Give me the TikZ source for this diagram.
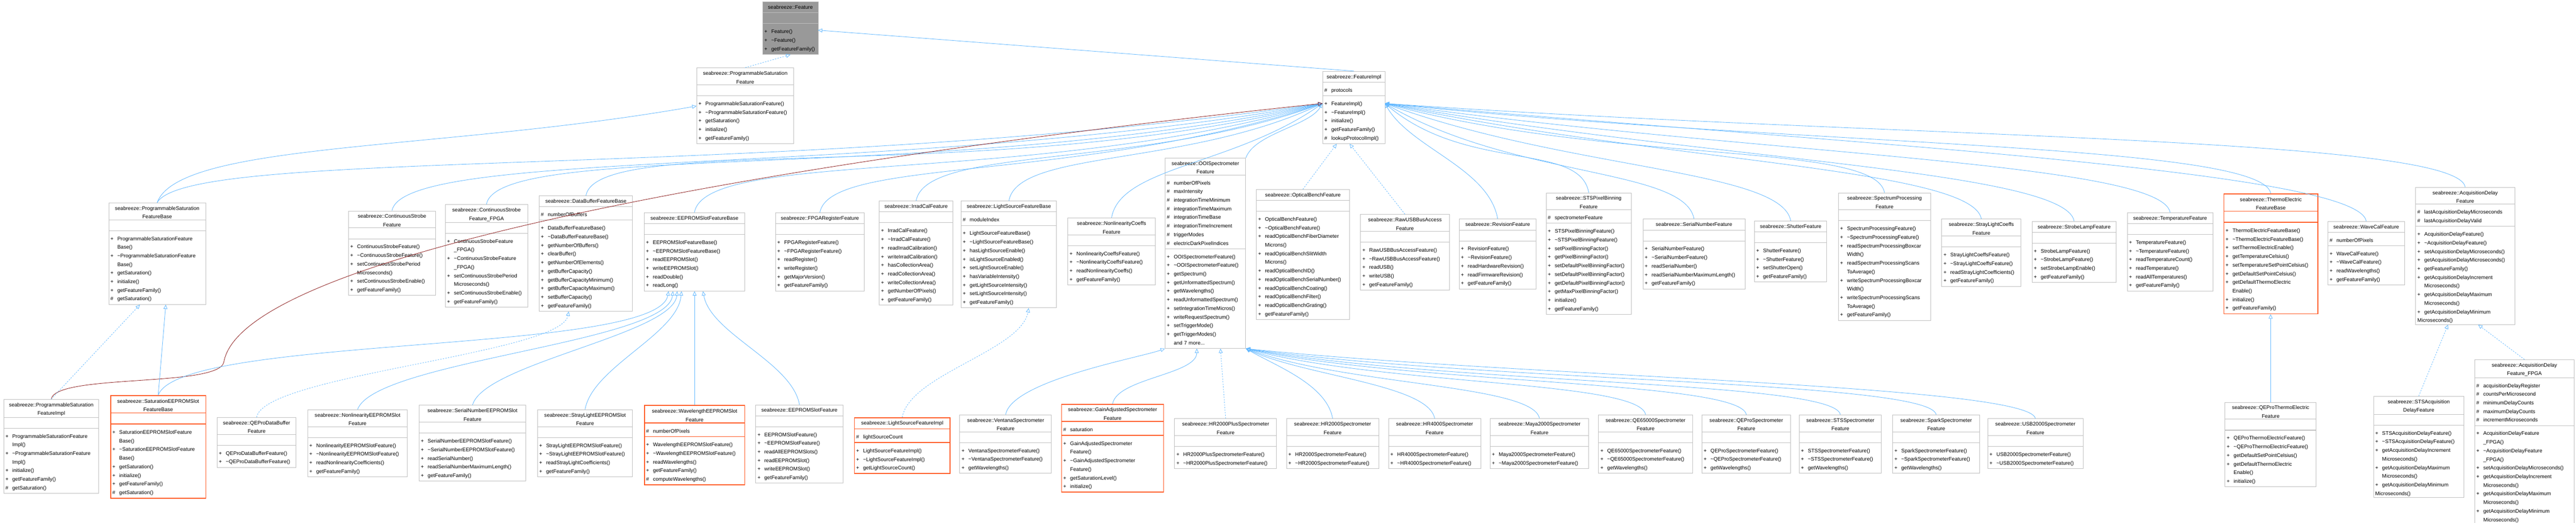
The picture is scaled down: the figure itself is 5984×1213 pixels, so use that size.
\documentclass[tikz,border=0pt]{standalone}
\usepackage{fontspec}
\setmainfont{Liberation Sans}
\usetikzlibrary{shapes.multipart,arrows.meta}

\definecolor{edgeblue}{HTML}{63B8FF}
\definecolor{protred}{HTML}{8B1A1A}
\definecolor{boxgray}{HTML}{BFBFBF}
\definecolor{hotred}{HTML}{FF5A24}
\definecolor{rootgray}{HTML}{999999}

% one member line: symbol, then name (wrapped lines hang under the name)
\newcommand{\mbr}[2]{\par\noindent\hangindent=16pt\hangafter=1\makebox[16pt][l]{#1}\strut#2}
\newcommand{\pub}[1]{\mbr{+}{#1}}
\newcommand{\pro}[1]{\mbr{\#}{#1}}
\newcommand{\dt}{\textasciitilde}

% class box: style, name, x, y, width, title, attributes, methods
\newcommand{\umlclass}[8][classbox]{%
\node[#1, text width=#5pt-8pt] (#2) at (#3pt,-#4pt)
 {\centering\strut#6\par\nodepart{two}\raggedright#7\nodepart{three}\raggedright#8};}

\tikzset{
 classbox/.style={rectangle split, rectangle split parts=3, draw=boxgray, line width=1.2pt,
  anchor=north west, inner xsep=4pt, inner ysep=2pt, font=\fontsize{12}{20}\selectfont},
 hotbox/.style={classbox, draw=hotred, line width=2pt},
 rootbox/.style={classbox, fill=rootgray},
 inh/.style={draw=edgeblue, line width=1pt, -{Triangle[open,length=10pt,width=9pt]}},
 inhdash/.style={inh, dashed},
 prot/.style={inh, draw=protred},
}

\begin{document}
\begin{tikzpicture}
\useasboundingbox (0,0) rectangle (5984pt,-1213pt);

% top
\umlclass[rootbox]{feat}{1771}{4}{129}{seabreeze::Feature}{\strut}{\pub{Feature()}\pub{\dt Feature()}\pub{getFeatureFamily()}}
\umlclass{psf}{1618}{157}{225}{seabreeze::ProgrammableSaturation\\Feature}{\strut}{\pub{ProgrammableSaturationFeature()}\pub{\dt ProgrammableSaturationFeature()}\pub{getSaturation()}\pub{initialize()}\pub{getFeatureFamily()}}
\umlclass{fimpl}{3072}{165}{145}{seabreeze::FeatureImpl}{\pro{protocols}}{\pub{FeatureImpl()}\pub{\dt FeatureImpl()}\pub{initialize()}\pub{getFeatureFamily()}\pro{lookupProtocolImpl()}}

% second row
\umlclass{psfb}{252}{470}{225}{seabreeze::ProgrammableSaturation\\FeatureBase}{\strut}{\pub{ProgrammableSaturationFeature\newline Base()}\pub{\dt ProgrammableSaturationFeature\newline Base()}\pub{getSaturation()}\pub{initialize()}\pub{getFeatureFamily()}\pro{getSaturation()}}
\umlclass{csf}{809}{489}{202}{seabreeze::ContinuousStrobe\\Feature}{\strut}{\pub{ContinuousStrobeFeature()}\pub{\dt ContinuousStrobeFeature()}\pub{setContinuousStrobePeriod\newline Microseconds()}\pub{setContinuousStrobeEnable()}\pub{getFeatureFamily()}}
\umlclass{csfpga}{1034}{474}{191}{seabreeze::ContinuousStrobe\\Feature\_FPGA}{\strut}{\pub{ContinuousStrobeFeature\newline\_FPGA()}\pub{\dt ContinuousStrobeFeature\newline\_FPGA()}\pub{setContinuousStrobePeriod\newline Microseconds()}\pub{setContinuousStrobeEnable()}\pub{getFeatureFamily()}}
\umlclass{dbfb}{1252}{454}{217}{seabreeze::DataBufferFeatureBase}{\pro{numberOfBuffers}}{\pub{DataBufferFeatureBase()}\pub{\dt DataBufferFeatureBase()}\pub{getNumberOfBuffers()}\pub{clearBuffer()}\pub{getNumberOfElements()}\pub{getBufferCapacity()}\pub{getBufferCapacityMinimum()}\pub{getBufferCapacityMaximum()}\pub{setBufferCapacity()}\pub{getFeatureFamily()}}
\umlclass{eesb}{1496}{493}{233}{seabreeze::EEPROMSlotFeatureBase}{\strut}{\pub{EEPROMSlotFeatureBase()}\pub{\dt EEPROMSlotFeatureBase()}\pub{readEEPROMSlot()}\pub{writeEEPROMSlot()}\pub{readDouble()}\pub{readLong()}}
\umlclass{fpga}{1801}{493}{206}{seabreeze::FPGARegisterFeature}{\strut}{\pub{FPGARegisterFeature()}\pub{\dt FPGARegisterFeature()}\pub{readRegister()}\pub{writeRegister()}\pub{getMajorVersion()}\pub{getFeatureFamily()}}
\umlclass{irr}{2042}{466}{171}{seabreeze::IrradCalFeature}{\strut}{\pub{IrradCalFeature()}\pub{\dt IrradCalFeature()}\pub{readIrradCalibration()}\pub{writeIrradCalibration()}\pub{hasCollectionArea()}\pub{readCollectionArea()}\pub{writeCollectionArea()}\pub{getNumberOfPixels()}\pub{getFeatureFamily()}}
\umlclass{lsfb}{2232}{466}{222}{seabreeze::LightSourceFeatureBase}{\pro{moduleIndex}}{\pub{LightSourceFeatureBase()}\pub{\dt LightSourceFeatureBase()}\pub{hasLightSourceEnable()}\pub{isLightSourceEnabled()}\pub{setLightSourceEnable()}\pub{hasVariableIntensity()}\pub{getLightSourceIntensity()}\pub{setLightSourceIntensity()}\pub{getFeatureFamily()}}
\umlclass{nlc}{2480}{505}{203}{seabreeze::NonlinearityCoeffs\\Feature}{\strut}{\pub{NonlinearityCoeffsFeature()}\pub{\dt NonlinearityCoeffsFeature()}\pub{readNonlinearityCoeffs()}\pub{getFeatureFamily()}}
\umlclass{ooi}{2706}{366}{187}{seabreeze::OOISpectrometer\\Feature}{\pro{numberOfPixels}\pro{maxIntensity}\pro{integrationTimeMinimum}\pro{integrationTimeMaximum}\pro{integrationTimeBase}\pro{integrationTimeIncrement}\pro{triggerModes}\pro{electricDarkPixelIndices}}{\pub{OOISpectrometerFeature()}\pub{\dt OOISpectrometerFeature()}\pub{getSpectrum()}\pub{getUnformattedSpectrum()}\pub{getWavelengths()}\pub{readUnformattedSpectrum()}\pub{setIntegrationTimeMicros()}\pub{writeRequestSpectrum()}\pub{setTriggerMode()}\pub{getTriggerModes()}\mbr{}{and 7 more...}}
\umlclass{ob}{2918}{439}{216}{seabreeze::OpticalBenchFeature}{\strut}{\pub{OpticalBenchFeature()}\pub{\dt OpticalBenchFeature()}\pub{readOpticalBenchFiberDiameter\newline Microns()}\pub{readOpticalBenchSlitWidth\newline Microns()}\pub{readOpticalBenchID()}\pub{readOpticalBenchSerialNumber()}\pub{readOpticalBenchCoating()}\pub{readOpticalBenchFilter()}\pub{readOpticalBenchGrating()}\pub{getFeatureFamily()}}
\umlclass{rusb}{3160}{497}{206}{seabreeze::RawUSBBusAccess\\Feature}{\strut}{\pub{RawUSBBusAccessFeature()}\pub{\dt RawUSBBusAccessFeature()}\pub{readUSB()}\pub{writeUSB()}\pub{getFeatureFamily()}}
\umlclass{rev}{3389}{508}{179}{seabreeze::RevisionFeature}{\strut}{\pub{RevisionFeature()}\pub{\dt RevisionFeature()}\pub{readHardwareRevision()}\pub{readFirmwareRevision()}\pub{getFeatureFamily()}}
\umlclass{sts}{3591}{447}{198}{seabreeze::STSPixelBinning\\Feature}{\pro{spectrometerFeature}}{\pub{STSPixelBinningFeature()}\pub{\dt STSPixelBinningFeature()}\pub{setPixelBinningFactor()}\pub{getPixelBinningFactor()}\pub{setDefaultPixelBinningFactor()}\pub{setDefaultPixelBinningFactor()}\pub{getDefaultPixelBinningFactor()}\pub{getMaxPixelBinningFactor()}\pub{initialize()}\pub{getFeatureFamily()}}
\umlclass{sn}{3816}{508}{237}{seabreeze::SerialNumberFeature}{\strut}{\pub{SerialNumberFeature()}\pub{\dt SerialNumberFeature()}\pub{readSerialNumber()}\pub{readSerialNumberMaximumLength()}\pub{getFeatureFamily()}}
\umlclass{shut}{4075}{512}{168}{seabreeze::ShutterFeature}{\strut}{\pub{ShutterFeature()}\pub{\dt ShutterFeature()}\pub{setShutterOpen()}\pub{getFeatureFamily()}}
\umlclass{spf}{4270}{447}{214}{seabreeze::SpectrumProcessing\\Feature}{\strut}{\pub{SpectrumProcessingFeature()}\pub{\dt SpectrumProcessingFeature()}\pub{readSpectrumProcessingBoxcar\newline Width()}\pub{readSpectrumProcessingScans\newline ToAverage()}\pub{writeSpectrumProcessingBoxcar\newline Width()}\pub{writeSpectrumProcessingScans\newline ToAverage()}\pub{getFeatureFamily()}}
\umlclass{slc}{4510}{508}{184}{seabreeze::StrayLightCoeffs\\Feature}{\strut}{\pub{StrayLightCoeffsFeature()}\pub{\dt StrayLightCoeffsFeature()}\pub{readStrayLightCoefficients()}\pub{getFeatureFamily()}}
\umlclass{slamp}{4720}{513}{195}{seabreeze::StrobeLampFeature}{\strut}{\pub{StrobeLampFeature()}\pub{\dt StrobeLampFeature()}\pub{setStrobeLampEnable()}\pub{getFeatureFamily()}}
\umlclass{temp}{4941}{493}{199}{seabreeze::TemperatureFeature}{\strut}{\pub{TemperatureFeature()}\pub{\dt TemperatureFeature()}\pub{readTemperatureCount()}\pub{readTemperature()}\pub{readAllTemperatures()}\pub{getFeatureFamily()}}
\umlclass[hotbox]{te}{5165}{449}{218}{seabreeze::ThermoElectric\\FeatureBase}{\strut}{\pub{ThermoElectricFeatureBase()}\pub{\dt ThermoElectricFeatureBase()}\pub{setThermoElectricEnable()}\pub{getTemperatureCelsius()}\pub{setTemperatureSetPointCelsius()}\pub{getDefaultSetPointCelsius()}\pub{getDefaultThermoElectric\newline Enable()}\pub{initialize()}\pub{getFeatureFamily()}}
\umlclass{wc}{5407}{513}{178}{seabreeze::WaveCalFeature}{\pro{numberOfPixels}}{\pub{WaveCalFeature()}\pub{\dt WaveCalFeature()}\pub{readWavelengths()}\pub{getFeatureFamily()}}
\umlclass{acq}{5611}{434}{230}{seabreeze::AcquisitionDelay\\Feature}{\pro{lastAcquisitionDelayMicroseconds}\pro{lastAcquisitionDelayValid}}{\pub{AcquisitionDelayFeature()}\pub{\dt AcquisitionDelayFeature()}\pub{setAcquisitionDelayMicroseconds()}\pub{getAcquisitionDelayMicroseconds()}\pub{getFeatureFamily()}\pub{getAcquisitionDelayIncrement\newline Microseconds()}\pub{getAcquisitionDelayMaximum\newline Microseconds()}\pub{getAcquisitionDelayMinimum\newline Microseconds()}}

% third row
\umlclass{psfi}{8}{926}{221}{seabreeze::ProgrammableSaturation\\FeatureImpl}{\strut}{\pub{ProgrammableSaturationFeature\newline Impl()}\pub{\dt ProgrammableSaturationFeature\newline Impl()}\pub{initialize()}\pub{getFeatureFamily()}\pro{getSaturation()}}
\umlclass[hotbox]{sesb}{256}{917}{221}{seabreeze::SaturationEEPROMSlot\\FeatureBase}{\strut}{\pub{SaturationEEPROMSlotFeature\newline Base()}\pub{\dt SaturationEEPROMSlotFeature\newline Base()}\pub{getSaturation()}\pub{initialize()}\pub{getFeatureFamily()}\pro{getSaturation()}}
\umlclass{qdb}{504}{968}{183}{seabreeze::QEProDataBuffer\\Feature}{\strut}{\pub{QEProDataBufferFeature()}\pub{\dt QEProDataBufferFeature()}}
\umlclass{nles}{714}{950}{232}{seabreeze::NonlinearityEEPROMSlot\\Feature}{\strut}{\pub{NonlinearityEEPROMSlotFeature()}\pub{\dt NonlinearityEEPROMSlotFeature()}\pub{readNonlinearityCoefficients()}\pub{getFeatureFamily()}}
\umlclass{snes}{973}{940}{248}{seabreeze::SerialNumberEEPROMSlot\\Feature}{\strut}{\pub{SerialNumberEEPROMSlotFeature()}\pub{\dt SerialNumberEEPROMSlotFeature()}\pub{readSerialNumber()}\pub{readSerialNumberMaximumLength()}\pub{getFeatureFamily()}}
\umlclass{sles}{1248}{950}{221}{seabreeze::StrayLightEEPROMSlot\\Feature}{\strut}{\pub{StrayLightEEPROMSlotFeature()}\pub{\dt StrayLightEEPROMSlotFeature()}\pub{readStrayLightCoefficients()}\pub{getFeatureFamily()}}
\umlclass[hotbox]{wles}{1496}{940}{233}{seabreeze::WavelengthEEPROMSlot\\Feature}{\pro{numberOfPixels}}{\pub{WavelengthEEPROMSlotFeature()}\pub{\dt WavelengthEEPROMSlotFeature()}\pub{readWavelengths()}\pub{getFeatureFamily()}\pro{computeWavelengths()}}
\umlclass{eesf}{1755}{939}{203}{seabreeze::EEPROMSlotFeature}{\strut}{\pub{EEPROMSlotFeature()}\pub{\dt EEPROMSlotFeature()}\pub{readAllEEPROMSlots()}\pub{readEEPROMSlot()}\pub{writeEEPROMSlot()}\pub{getFeatureFamily()}}
\umlclass[hotbox]{lsfi}{1984}{968}{222}{seabreeze::LightSourceFeatureImpl}{\pro{lightSourceCount}}{\pub{LightSourceFeatureImpl()}\pub{\dt LightSourceFeatureImpl()}\pub{getLightSourceCount()}}
\umlclass{vent}{2229}{962}{213}{seabreeze::VentanaSpectrometer\\Feature}{\strut}{\pub{VentanaSpectrometerFeature()}\pub{\dt VentanaSpectrometerFeature()}\pub{getWavelengths()}}
\umlclass[hotbox]{gain}{2465}{937}{237}{seabreeze::GainAdjustedSpectrometer\\Feature}{\pro{saturation}}{\pub{GainAdjustedSpectrometer\newline Feature()}\pub{\dt GainAdjustedSpectrometer\newline Feature()}\pub{getSaturationLevel()}\pub{initialize()}}
\umlclass{hrtp}{2728}{971}{237}{seabreeze::HR2000PlusSpectrometer\\Feature}{\strut}{\pub{HR2000PlusSpectrometerFeature()}\pub{\dt HR2000PlusSpectrometerFeature()}}
\umlclass{hrt}{2988}{971}{214}{seabreeze::HR2000Spectrometer\\Feature}{\strut}{\pub{HR2000SpectrometerFeature()}\pub{\dt HR2000SpectrometerFeature()}}
\umlclass{hrf}{3225}{971}{214}{seabreeze::HR4000Spectrometer\\Feature}{\strut}{\pub{HR4000SpectrometerFeature()}\pub{\dt HR4000SpectrometerFeature()}}
\umlclass{maya}{3461}{971}{229}{seabreeze::Maya2000Spectrometer\\Feature}{\strut}{\pub{Maya2000SpectrometerFeature()}\pub{\dt Maya2000SpectrometerFeature()}}
\umlclass{qesf}{3713}{962}{218}{seabreeze::QE65000Spectrometer\\Feature}{\strut}{\pub{QE65000SpectrometerFeature()}\pub{\dt QE65000SpectrometerFeature()}\pub{getWavelengths()}}
\umlclass{qepro}{3953}{962}{206}{seabreeze::QEProSpectrometer\\Feature}{\strut}{\pub{QEProSpectrometerFeature()}\pub{\dt QEProSpectrometerFeature()}\pub{getWavelengths()}}
\umlclass{stss}{4179}{962}{191}{seabreeze::STSSpectrometer\\Feature}{\strut}{\pub{STSSpectrometerFeature()}\pub{\dt STSSpectrometerFeature()}\pub{getWavelengths()}}
\umlclass{spark}{4396}{962}{202}{seabreeze::SparkSpectrometer\\Feature}{\strut}{\pub{SparkSpectrometerFeature()}\pub{\dt SparkSpectrometerFeature()}\pub{getWavelengths()}}
\umlclass{usbt}{4617}{971}{221}{seabreeze::USB2000Spectrometer\\Feature}{\strut}{\pub{USB2000SpectrometerFeature()}\pub{\dt USB2000SpectrometerFeature()}}
\umlclass{qte}{5168}{933}{212}{seabreeze::QEProThermoElectric\\Feature}{\strut}{\pub{QEProThermoElectricFeature()}\pub{\dt QEProThermoElectricFeature()}\pub{getDefaultSetPointCelsius()}\pub{getDefaultThermoElectric\newline Enable()}\pub{initialize()}}
\umlclass{stsad}{5513}{919}{210}{seabreeze::STSAcquisition\\DelayFeature}{\strut}{\pub{STSAcquisitionDelayFeature()}\pub{\dt STSAcquisitionDelayFeature()}\pub{getAcquisitionDelayIncrement\newline Microseconds()}\pub{getAcquisitionDelayMaximum\newline Microseconds()}\pub{getAcquisitionDelayMinimum\newline Microseconds()}}
\umlclass{acqf}{5748}{834}{231}{seabreeze::AcquisitionDelay\\Feature\_FPGA}{\pro{acquisitionDelayRegister}\pro{countsPerMicrosecond}\pro{minimumDelayCounts}\pro{maximumDelayCounts}\pro{incrementMicroseconds}}{\pub{AcquisitionDelayFeature\newline\_FPGA()}\pub{\dt AcquisitionDelayFeature\newline\_FPGA()}\pub{setAcquisitionDelayMicroseconds()}\pub{getAcquisitionDelayIncrement\newline Microseconds()}\pub{getAcquisitionDelayMaximum\newline Microseconds()}\pub{getAcquisitionDelayMinimum\newline Microseconds()}\pro{countsToMicroseconds()}\pro{microsecondsToCounts()}}

% arrival points on the parents
\coordinate (featR) at (1900pt,-70pt);
\coordinate (psfL) at (1618pt,-246pt);
\coordinate (fiL) at (3072pt,-240pt);
\coordinate (fiR) at (3217pt,-240pt);

% inheritance
\draw[inhdash] (psf.north) -- (feat.south);
\draw[inh] (fimpl.north) -- (featR);
\draw[inh] (psfb.north) .. controls +(70:150pt) and +(190:600pt) .. (psfL);
\draw[inh] (psfb.north) .. controls +(60:150pt) and +(188:1300pt) .. (fiL);
\draw[inh] (csf.north) .. controls +(80:150pt) and +(190:1000pt) .. (fiL);
\draw[inh] (csfpga.north) .. controls +(80:150pt) and +(192:900pt) .. (fiL);
\draw[inh] (dbfb.north) .. controls +(80:150pt) and +(194:800pt) .. (fiL);
\draw[inh] (eesb.north) .. controls +(80:150pt) and +(196:700pt) .. (fiL);
\draw[inh] (fpga.north) .. controls +(80:130pt) and +(198:600pt) .. (fiL);
\draw[inh] (irr.north) .. controls +(80:130pt) and +(200:450pt) .. (fiL);
\draw[inh] (lsfb.north) .. controls +(80:120pt) and +(205:350pt) .. (fiL);
\draw[inh] (nlc.north) .. controls +(80:120pt) and +(215:250pt) .. (fiL);
\draw[inh] (ooi.north east) .. controls +(70:60pt) and +(240:60pt) .. (fiL);
\draw[inhdash] (ob.north) -- ([xshift=-40pt]fimpl.south);
\draw[inhdash] (rusb.north) -- ([xshift=-10pt]fimpl.south);
\draw[inh] (rev.north) .. controls +(100:120pt) and +(-60:120pt) .. (fiR);
\draw[inh] (sts.north) .. controls +(100:120pt) and +(-40:250pt) .. (fiR);
\draw[inh] (sn.north) .. controls +(100:120pt) and +(-30:350pt) .. (fiR);
\draw[inh] (shut.north) .. controls +(100:120pt) and +(-20:450pt) .. (fiR);
\draw[inh] (spf.north) .. controls +(100:120pt) and +(-15:550pt) .. (fiR);
\draw[inh] (slc.north) .. controls +(100:120pt) and +(-12:650pt) .. (fiR);
\draw[inh] (slamp.north) .. controls +(100:120pt) and +(-10:750pt) .. (fiR);
\draw[inh] (temp.north) .. controls +(100:120pt) and +(-8:850pt) .. (fiR);
\draw[inh] (te.north) .. controls +(100:120pt) and +(-6:950pt) .. (fiR);
\draw[inh] (wc.north) .. controls +(100:120pt) and +(-5:1050pt) .. (fiR);
\draw[inh] (acq.north) .. controls +(100:120pt) and +(-4:1150pt) .. (fiR);
\draw[prot] (psfi.north) .. controls +(80:60pt) and +(-100:60pt) .. (520pt,-840pt) .. controls +(80:250pt) and +(186:1300pt) .. (fiL);
\draw[inhdash] (psfi.north) -- ([xshift=-40pt]psfb.south);
\draw[inh] (sesb.north) -- ([xshift=20pt]psfb.south);
\draw[inh] (sesb.north) .. controls +(70:150pt) and +(-100:150pt) .. ([xshift=-60pt]eesb.south);
\draw[inhdash] (qdb.north) .. controls +(80:100pt) and +(-100:100pt) .. ([xshift=-40pt]dbfb.south);
\draw[inh] (nles.north) .. controls +(70:120pt) and +(-95:120pt) .. ([xshift=-50pt]eesb.south);
\draw[inh] (snes.north) .. controls +(75:100pt) and +(-95:100pt) .. ([xshift=-40pt]eesb.south);
\draw[inh] (sles.north) .. controls +(80:100pt) and +(-95:100pt) .. ([xshift=-30pt]eesb.south);
\draw[inh] (wles.north) -- (wles.north |- eesb.south);
\draw[inh] (eesf.north) .. controls +(100:100pt) and +(-80:100pt) .. ([xshift=20pt]eesb.south);
\draw[inhdash] (lsfi.north) .. controls +(80:100pt) and +(-100:100pt) .. ([xshift=46pt]lsfb.south);
\draw[inh] (vent.north) .. controls +(80:80pt) and +(200:60pt) .. (ooi.south west);
\draw[inh] (gain.north) .. controls +(80:60pt) and +(-90:60pt) .. ([xshift=-20pt]ooi.south);
\draw[inhdash] (hrtp.north) -- ([xshift=35pt]ooi.south);
\draw[inh] (hrt.north) .. controls +(100:80pt) and +(-30:80pt) .. (ooi.south east);
\draw[inh] (hrf.north) .. controls +(100:80pt) and +(-25:150pt) .. (ooi.south east);
\draw[inh] (maya.north) .. controls +(100:80pt) and +(-20:250pt) .. (ooi.south east);
\draw[inh] (qesf.north) .. controls +(100:80pt) and +(-15:330pt) .. (ooi.south east);
\draw[inh] (qepro.north) .. controls +(100:80pt) and +(-12:400pt) .. (ooi.south east);
\draw[inh] (stss.north) .. controls +(100:80pt) and +(-10:480pt) .. (ooi.south east);
\draw[inh] (spark.north) .. controls +(100:80pt) and +(-8:550pt) .. (ooi.south east);
\draw[inh] (usbt.north) .. controls +(100:80pt) and +(-6:620pt) .. (ooi.south east);
\draw[inh] (qte.north) -- (qte.north |- te.south);
\draw[inhdash] (stsad.north) -- ([xshift=-40pt]acq.south);
\draw[inhdash] (acqf.north) -- ([xshift=30pt]acq.south);
\end{tikzpicture}
\end{document}
